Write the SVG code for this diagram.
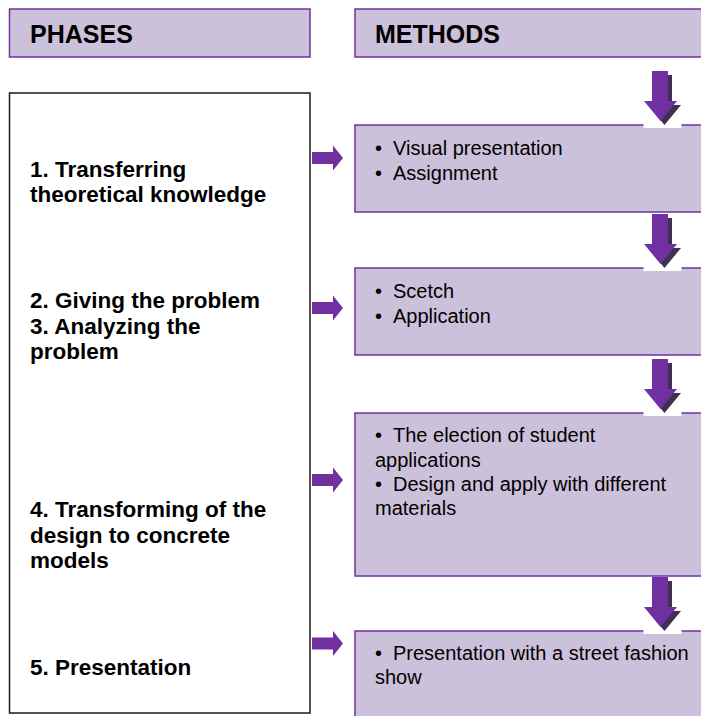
<svg xmlns="http://www.w3.org/2000/svg" xmlns:xlink="http://www.w3.org/1999/xlink" width="701" height="716" viewBox="0 0 701 716">
<style>
.hdr{fill:#ccc1da;stroke:#7030a0;stroke-width:1.5}
.box{fill:#ccc1da;stroke:#7030a0;stroke-width:1.5}
.hdrt{font-family:"Liberation Sans",Arial,sans-serif;font-size:25px;font-weight:bold;fill:#000}
.ph{font-family:"Liberation Sans",Arial,sans-serif;font-size:22.5px;font-weight:bold;fill:#000}
.mt{font-family:"Liberation Sans",Arial,sans-serif;font-size:20px;fill:#000}
.arr{fill:#7030a0}
.sh{fill:#3f3151}
</style>
<defs>
<path id="dn" d="M-8.5,-50 L7.5,-50 L7.5,-20 L16.5,-20 L0,0 L-16.5,-20 L-8.5,-20 Z"/>
<path id="rt" d="M0,-6 H21 V-12.5 L31,0 L21,12.5 V6 H0 Z"/>
<g id="darrow">
<rect x="-17" y="-8" width="38" height="15" fill="#fff"/>
<use xlink:href="#dn" class="sh" transform="translate(4,4)"/>
<use xlink:href="#dn" class="arr"/>
</g>
</defs>
<g id="header-phases">
<rect class="hdr" x="9.5" y="9" width="300.5" height="48"/>
<text class="hdrt" x="30" y="43">PHASES</text>
</g>
<g id="header-methods">
<rect class="hdr" x="355" y="9" width="360" height="48"/>
<text class="hdrt" x="375" y="43">METHODS</text>
</g>
<g id="phases">
<rect x="9.5" y="93" width="300.5" height="620" fill="#fff" stroke="#1a1a1a" stroke-width="1.5"/>
<text class="ph" x="30" y="177">1. Transferring</text>
<text class="ph" x="30" y="202">theoretical knowledge</text>
<text class="ph" x="30" y="308">2. Giving the problem</text>
<text class="ph" x="30" y="333.5">3. Analyzing the</text>
<text class="ph" x="30" y="359">problem</text>
<text class="ph" x="30" y="517">4. Transforming of the</text>
<text class="ph" x="30" y="542.5">design to concrete</text>
<text class="ph" x="30" y="568">models</text>
<text class="ph" x="30" y="675">5. Presentation</text>
</g>
<g id="method1">
<rect class="box" x="355" y="125" width="360" height="87"/>
<text class="mt" x="375" y="155">•</text>
<text class="mt" x="393" y="155">Visual presentation</text>
<text class="mt" x="375" y="180">•</text>
<text class="mt" x="393" y="180">Assignment</text>
</g>
<g id="method2">
<rect class="box" x="355" y="268" width="360" height="87"/>
<text class="mt" x="375" y="298">•</text>
<text class="mt" x="393" y="298">Scetch</text>
<text class="mt" x="375" y="322.5">•</text>
<text class="mt" x="393" y="322.5">Application</text>
</g>
<g id="method3">
<rect class="box" x="355" y="413" width="360" height="163"/>
<text class="mt" x="375" y="442">•</text>
<text class="mt" x="393" y="442">The election of student</text>
<text class="mt" x="375" y="466.5">applications</text>
<text class="mt" x="375" y="490.5">•</text>
<text class="mt" x="393" y="490.5">Design and apply with different</text>
<text class="mt" x="375" y="514.5">materials</text>
</g>
<g id="method4">
<rect class="box" x="355" y="631" width="360" height="100"/>
<text class="mt" x="375" y="660">•</text>
<text class="mt" x="393" y="660">Presentation with a street fashion</text>
<text class="mt" x="375" y="684">show</text>
</g>
<g id="connectors">
<use xlink:href="#rt" class="arr" transform="translate(312,158)"/>
<use xlink:href="#rt" class="arr" transform="translate(312,308)"/>
<use xlink:href="#rt" class="arr" transform="translate(312,480)"/>
<use xlink:href="#rt" class="arr" transform="translate(312,643.5)"/>
<use xlink:href="#darrow" transform="translate(660.5,121)"/>
<use xlink:href="#darrow" transform="translate(660.5,264)"/>
<use xlink:href="#darrow" transform="translate(660.5,409)"/>
<use xlink:href="#darrow" transform="translate(660.5,627)"/>
</g>
</svg>
